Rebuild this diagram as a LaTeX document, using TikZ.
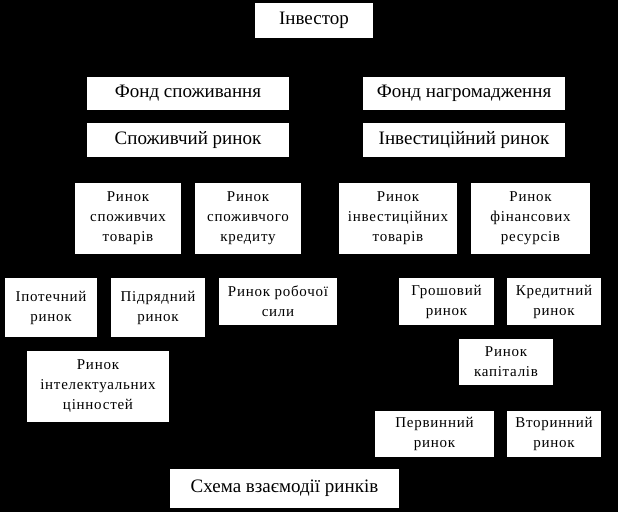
\documentclass[tikz,border=0pt]{standalone}
\usepackage{fontspec}
\setmainfont{Liberation Serif}
\newfontfamily\lowfont[LetterSpace=5]{Liberation Serif}
\tikzset{
  bigbox/.style={fill=white, inner sep=0pt, align=center,
    font=\fontsize{19}{21}\selectfont},
  smallbox/.style={fill=white, inner sep=0pt, align=center,
    font=\lowfont\fontsize{15}{20}\selectfont}
}
\begin{document}
\begin{tikzpicture}[x=1pt,y=-1pt]
\fill[black] (0,0) rectangle (618,512);
\useasboundingbox (0,0) rectangle (618,512);

% top levels
\node[bigbox,minimum width=118,minimum height=35] (inv) at (314,20.5) {Інвестор};
\node[bigbox,minimum width=202,minimum height=33] (fondsp) at (188,93.5) {Фонд споживання};
\node[bigbox,minimum width=202,minimum height=33] (fondnag) at (464,93.5) {Фонд нагромадження};
\node[bigbox,minimum width=202,minimum height=34] (spozhr) at (188,140) {Споживчий ринок};
\node[bigbox,minimum width=202,minimum height=34] (invr) at (464,140) {Інвестиційний ринок};

% markets
\node[smallbox,minimum width=106,minimum height=71] (rst) at (128,218) {Ринок\\споживчих\\товарів};
\node[smallbox,minimum width=106,minimum height=71] (rsk) at (248,218) {Ринок\\споживчого\\кредиту};
\node[smallbox,minimum width=118,minimum height=71] (rit) at (398,218) {Ринок\\інвестиційних\\товарів};
\node[smallbox,minimum width=119,minimum height=71] (rfr) at (530.5,218) {Ринок\\фінансових\\ресурсів};

\node[smallbox,minimum width=92,minimum height=59] (ipot) at (51,307.5) {Іпотечний\\ринок};
\node[smallbox,minimum width=94,minimum height=59] (pidr) at (158,307.5) {Підрядний\\ринок};
\node[smallbox,minimum width=118,minimum height=47] (rrs) at (278,301.5) {Ринок робочої\\сили};
\node[smallbox,minimum width=95,minimum height=47] (grosh) at (446.5,301.5) {Грошовий\\ринок};
\node[smallbox,minimum width=94,minimum height=47] (kred) at (554,301.5) {Кредитний\\ринок};
\node[smallbox,minimum width=94,minimum height=46] (kap) at (506,362) {Ринок\\капіталів};
\node[smallbox,minimum width=142,minimum height=71] (intel) at (98,386) {Ринок\\інтелектуальних\\цінностей};
\node[smallbox,minimum width=119,minimum height=46] (perv) at (434.5,434) {Первинний\\ринок};
\node[smallbox,minimum width=94,minimum height=46] (vtor) at (554,434) {Вторинний\\ринок};

% caption
\node[bigbox,minimum width=229,minimum height=39] (schema) at (284.5,488.5) {Схема взаємодії ринків};
\end{tikzpicture}
\end{document}
